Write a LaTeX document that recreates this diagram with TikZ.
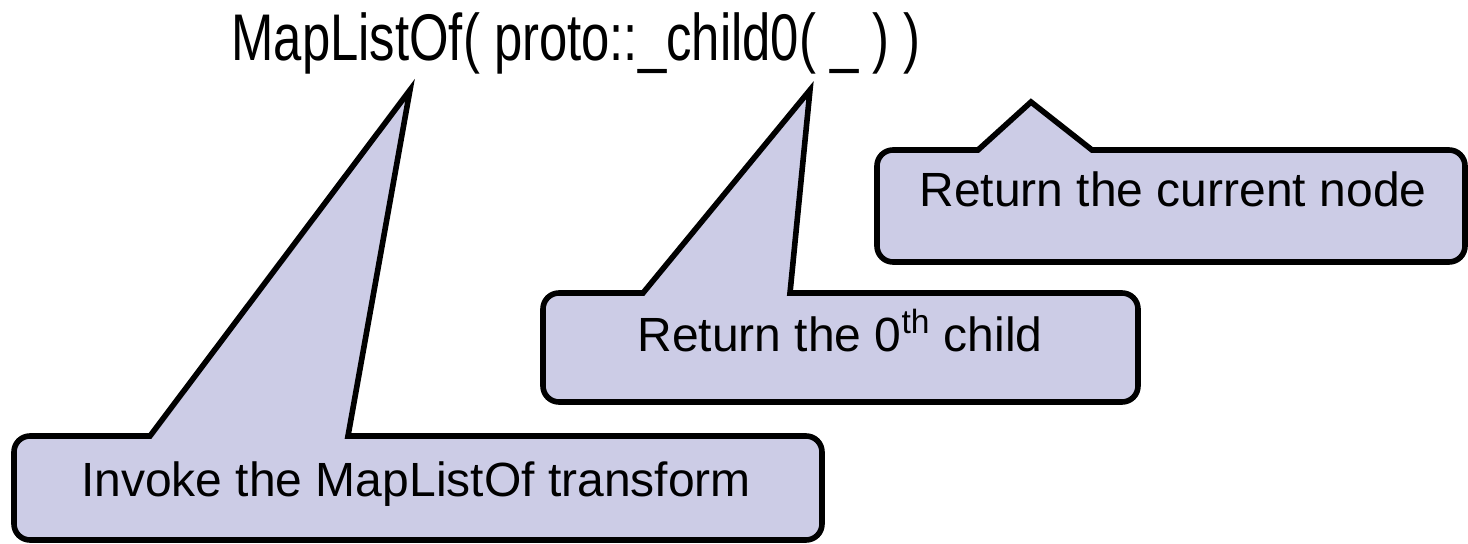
\documentclass[tikz,border=0pt]{standalone}
\usepackage{fontspec}
\setmainfont{Liberation Sans}

\definecolor{bubblefill}{RGB}{204,204,230}

\begin{document}
\begin{tikzpicture}[x=0.5pt,y=-0.5pt,
    bubble/.style={draw=black,fill=bubblefill,line width=2.8pt,line join=miter},
    note/.style={anchor=base,inner sep=0pt,font=\fontsize{24}{28}\selectfont}]
            \useasboundingbox (0,0) rectangle (1468,544);

            \node[anchor=base,inner sep=0pt,font=\fontsize{33}{38}\selectfont,xscale=0.77] (expr) at (576,61) {MapListOf( proto::\_child0( \_ ) )};

            \coordinate (tipA) at (410,90);
            \coordinate (tipB) at (810,90);
            \coordinate (tipC) at (1031,102);

            \draw[bubble] (tipA) -- (348,436) [rounded corners=8pt] -- (822,436) -- (822,540) -- (14,540) -- (14,436) [sharp corners] -- (150,436) -- cycle;
            \draw[bubble] (tipB) -- (790,293) [rounded corners=8pt] -- (1138,293) -- (1138,402) -- (543,402) -- (543,293) [sharp corners] -- (643,293) -- cycle;
            \draw[bubble] (tipC) -- (1092,150) [rounded corners=8pt] -- (1465,150) -- (1465,262) -- (877,262) -- (877,150) [sharp corners] -- (978,150) -- cycle;

            \node[note] (invoke) at (416,497) {Invoke the MapListOf transform};
            \node[note] (child) at (840,352) {Return the 0\textsuperscript{th} child};
            \node[note] (current) at (1173,207) {Return the current node};
          \end{tikzpicture}
\end{document}
